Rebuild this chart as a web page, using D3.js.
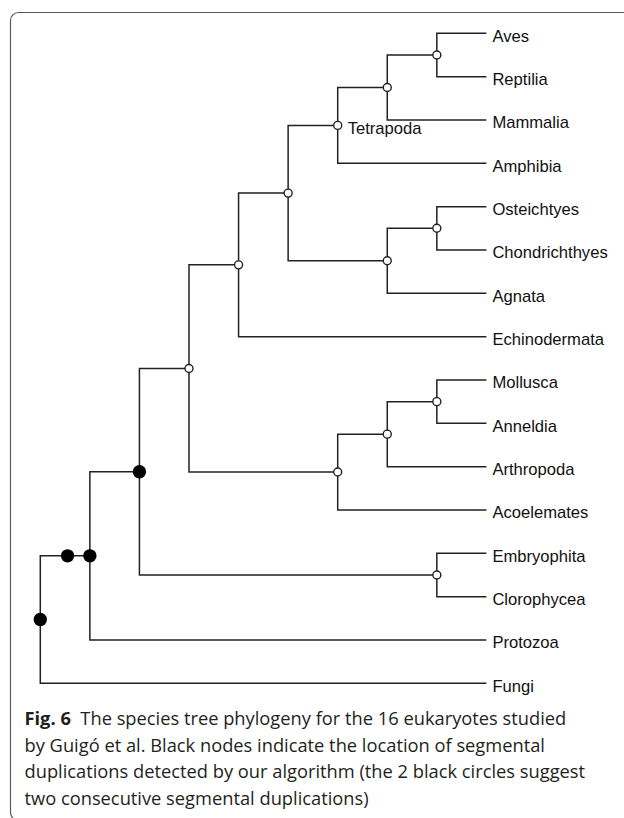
<!DOCTYPE html>
<html lang="en">
<head>
	<meta charset="UTF-8">
	<title>Species tree</title>
	<script src="https://cdn.jsdelivr.net/npm/d3@7"></script>
	<style>
		body { margin: 0; background: #fff; }
	</style>
</head>
<body>
	<div id="container"></div>
	<script>
		var width = 624;
		var height = 818;

		// clades, built from the leaves up
		var tetrapoda = [[["Aves", "Reptilia"], "Mammalia"], "Amphibia"];
		var fishes = [["Osteichtyes", "Chondrichthyes"], "Agnata"];
		var vertebrata = [tetrapoda, fishes];
		var deuterostomia = [vertebrata, "Echinodermata"];
		var protostomia = [[["Mollusca", "Anneldia"], "Arthropoda"], "Acoelemates"];
		var metazoa = [deuterostomia, protostomia];
		var plantae = ["Embryophita", "Clorophycea"];
		var metaPlants = [metazoa, plantae];
		var withProtozoa = [metaPlants, "Protozoa"];
		var eukaryota = [withProtozoa, "Fungi"];

		// black nodes: [clade, number of segmental duplications]
		var duplications = [[eukaryota, 1], [withProtozoa, 2], [metaPlants, 1]];
		var cladeNames = [[tetrapoda, "Tetrapoda"]];

		var caption = [
			["Fig. 6", "  The species tree phylogeny for the 16 eukaryotes studied"],
			["", "by Guigó et al. Black nodes indicate the location of segmental"],
			["", "duplications detected by our algorithm (the 2 black circles suggest"],
			["", "two consecutive segmental duplications)"]
		];

		var dupMap = new Map(duplications);
		var nameMap = new Map(cladeNames);

		var svg = d3.select("#container").append("svg")
				.attr("width", width)
				.attr("height", height);

		// frame
		svg.append("rect")
			.attr("x", 10.5).attr("y", 12.5)
			.attr("width", 700).attr("height", 808)
			.attr("rx", 8).attr("ry", 8)
			.attr("fill", "none")
			.attr("stroke", "#5a5a5a")
			.attr("stroke-width", 1.2);

		var root = d3.hierarchy(eukaryota, d => Array.isArray(d) ? d : null);
		d3.cluster().nodeSize([1, 1]).separation(() => 1)(root);

		var leaves = root.leaves();
		var depth = d3.scaleLinear()
				.domain([0, d3.max(leaves, d => d.y)])
				.range([40.3, 486.4]);
		var pos = d3.scaleLinear()
				.domain(d3.extent(leaves, d => d.x))
				.range([33.3, 683.3]);

		var ink = "#222";

		svg.append("g").selectAll("path")
			.data(root.links())
			.enter().append("path")
				.attr("d", d => "M" + depth(d.source.y) + "," + pos(d.source.x) +
					"V" + pos(d.target.x) + "H" + depth(d.target.y))
				.attr("fill", "none")
				.attr("stroke", ink)
				.attr("stroke-width", 1.5);

		var inner = root.descendants().filter(d => d.children);

		// open circles for plain speciation nodes
		svg.append("g").selectAll("circle")
			.data(inner.filter(d => !dupMap.has(d.data)))
			.enter().append("circle")
				.attr("cx", d => depth(d.y))
				.attr("cy", d => pos(d.x))
				.attr("r", 4)
				.attr("fill", "#fff")
				.attr("stroke", ink)
				.attr("stroke-width", 1.4);

		// black circles, extra ones sit on the incoming branch
		var dots = [];
		inner.filter(d => dupMap.has(d.data)).forEach(d => {
			for (var k = 0; k < dupMap.get(d.data); k++) {
				dots.push({ y: d.y - k * 0.45, x: d.x });
			}
		});
		svg.append("g").selectAll("circle")
			.data(dots)
			.enter().append("circle")
				.attr("cx", d => depth(d.y))
				.attr("cy", d => pos(d.x))
				.attr("r", 6.7)
				.attr("fill", "#000");

		var labelFont = "'Liberation Sans', Arial, sans-serif";

		svg.append("g").selectAll("text")
			.data(leaves)
			.enter().append("text")
				.attr("x", d => depth(d.y) + 6)
				.attr("y", d => pos(d.x) + 8.5)
				.attr("font-family", labelFont)
				.attr("font-size", 16.6)
				.attr("fill", "#111")
				.text(d => d.data);

		svg.append("g").selectAll("text")
			.data(inner.filter(d => nameMap.has(d.data)))
			.enter().append("text")
				.attr("x", d => depth(d.y) + 10)
				.attr("y", d => pos(d.x) + 8.5)
				.attr("font-family", labelFont)
				.attr("font-size", 16.6)
				.attr("fill", "#111")
				.text(d => nameMap.get(d.data));

		// caption
		var cap = svg.append("g")
				.attr("font-family", "'Open Sans', 'Noto Sans', sans-serif")
				.attr("font-size", 18.3)
				.attr("fill", "#231f20");
		cap.selectAll("text")
			.data(caption)
			.enter().append("text")
				.attr("x", 24.5)
				.attr("y", (d, i) => 725 + i * 26.7)
				.attr("xml:space", "preserve")
				.each(function(d) {
					var t = d3.select(this);
					if (d[0]) t.append("tspan").attr("font-weight", "bold").text(d[0]);
					t.append("tspan").text(d[1]);
				});
	</script>
</body>
</html>
